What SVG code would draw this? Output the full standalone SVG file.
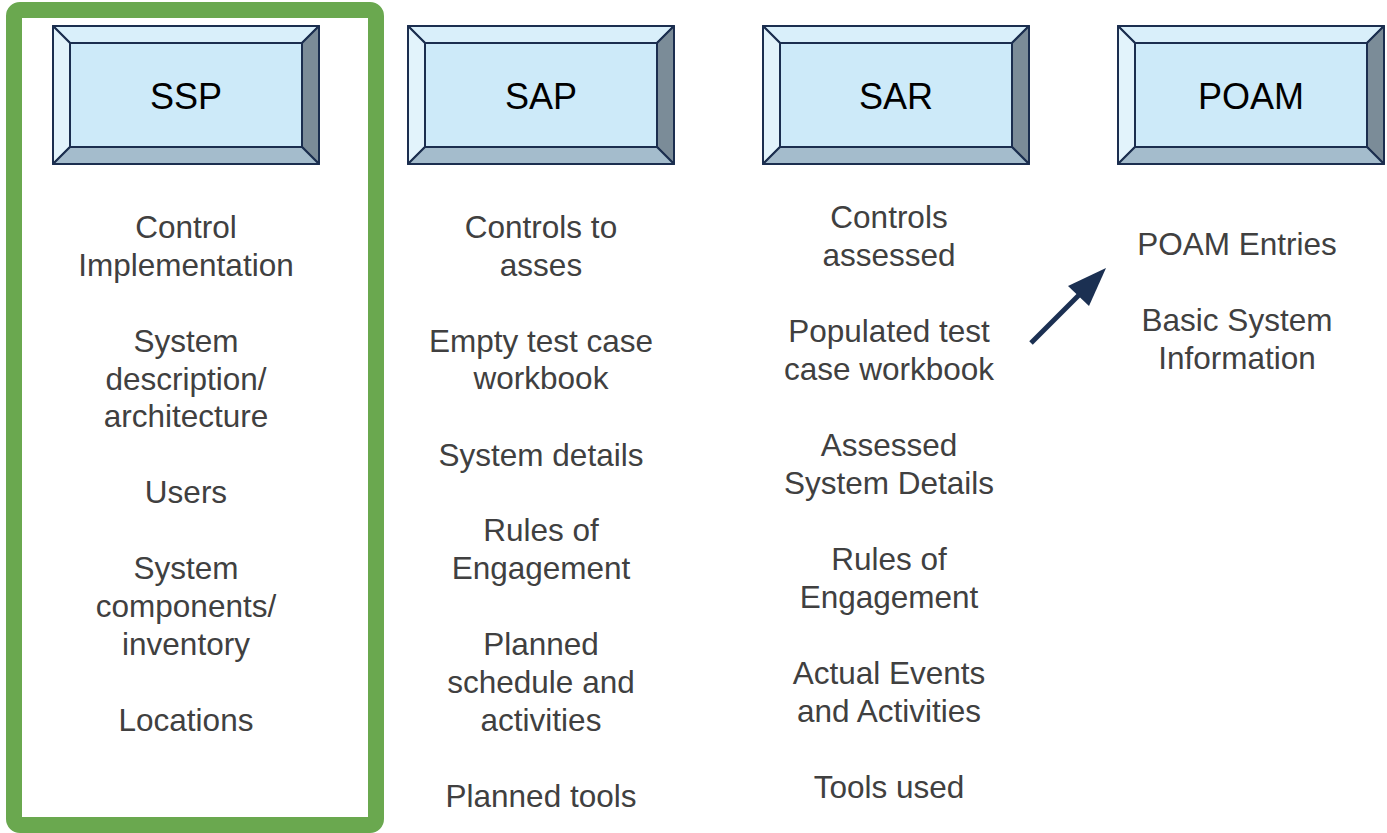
<svg xmlns="http://www.w3.org/2000/svg" width="1387" height="833" viewBox="0 0 1387 833">
<defs>
<style>
.face{fill:#CDEAF9;stroke:#1B2E4F;stroke-width:2}
.bt{fill:#D9EFFA;stroke:#1B2E4F;stroke-width:2;stroke-linejoin:round}
.bl{fill:#E2F3FB;stroke:#1B2E4F;stroke-width:2;stroke-linejoin:round}
.br{fill:#7B8C98;stroke:#1B2E4F;stroke-width:2;stroke-linejoin:round}
.bb{fill:#A4BCCC;stroke:#1B2E4F;stroke-width:2;stroke-linejoin:round}
.title{font-family:"Liberation Sans",Arial,sans-serif;font-size:36px;fill:#000;text-anchor:middle}
.item{font-family:"Liberation Sans",Arial,sans-serif;font-size:31.5px;fill:#404040;text-anchor:middle}
</style>
<g id="bevel">
<polygon class="bt" points="0,0 266,0 249,17 17,17"/>
<polygon class="bl" points="0,0 17,17 17,121 0,138"/>
<polygon class="br" points="266,0 266,138 249,121 249,17"/>
<polygon class="bb" points="0,138 17,121 249,121 266,138"/>
<rect class="face" x="17" y="17" width="232" height="104"/>
</g>
<marker id="ah" viewBox="0 0 10 10" refX="9" refY="5" markerWidth="5" markerHeight="5" orient="auto" markerUnits="strokeWidth">
<path d="M0,0 L10,5 L0,10 Z" fill="#1B3052"/>
</marker>
</defs>
<rect width="1387" height="833" fill="#fff"/>
<g id="frame">
<rect x="14" y="10" width="362" height="815" rx="6" fill="none" stroke="#6AA84F" stroke-width="16"/>
</g>
<g id="ssp">
<use href="#bevel" x="53" y="26"/>
<text class="title" x="186" y="109">SSP</text>
<text class="item" x="186" y="238">Control</text>
<text class="item" x="186" y="276">Implementation</text>
<text class="item" x="186" y="352">System</text>
<text class="item" x="186" y="390">description/</text>
<text class="item" x="186" y="427">architecture</text>
<text class="item" x="186" y="503">Users</text>
<text class="item" x="186" y="579">System</text>
<text class="item" x="186" y="617">components/</text>
<text class="item" x="186" y="655">inventory</text>
<text class="item" x="186" y="731">Locations</text>
</g>
<g id="sap">
<use href="#bevel" x="408" y="26"/>
<text class="title" x="541" y="109">SAP</text>
<text class="item" x="541" y="238">Controls to</text>
<text class="item" x="541" y="276">asses</text>
<text class="item" x="541" y="352">Empty test case</text>
<text class="item" x="541" y="389">workbook</text>
<text class="item" x="541" y="466">System details</text>
<text class="item" x="541" y="541">Rules of</text>
<text class="item" x="541" y="579">Engagement</text>
<text class="item" x="541" y="655">Planned</text>
<text class="item" x="541" y="693">schedule and</text>
<text class="item" x="541" y="731">activities</text>
<text class="item" x="541" y="807">Planned tools</text>
</g>
<g id="sar">
<use href="#bevel" x="763" y="26"/>
<text class="title" x="896" y="109">SAR</text>
<text class="item" x="889" y="228">Controls</text>
<text class="item" x="889" y="266">assessed</text>
<text class="item" x="889" y="342">Populated test</text>
<text class="item" x="889" y="380">case workbook</text>
<text class="item" x="889" y="456">Assessed</text>
<text class="item" x="889" y="494">System Details</text>
<text class="item" x="889" y="570">Rules of</text>
<text class="item" x="889" y="608">Engagement</text>
<text class="item" x="889" y="684">Actual Events</text>
<text class="item" x="889" y="722">and Activities</text>
<text class="item" x="889" y="798">Tools used</text>
</g>
<g id="poam">
<use href="#bevel" x="1118" y="26"/>
<text class="title" x="1251" y="109">POAM</text>
<text class="item" x="1237" y="255">POAM Entries</text>
<text class="item" x="1237" y="331">Basic System</text>
<text class="item" x="1237" y="369">Information</text>
</g>
<g id="connectors">
<line x1="1031" y1="343" x2="1088" y2="286" stroke="#1B3052" stroke-width="5"/>
<polygon points="1106,268 1068,286 1089,306" fill="#1B3052"/>
</g>
</svg>
